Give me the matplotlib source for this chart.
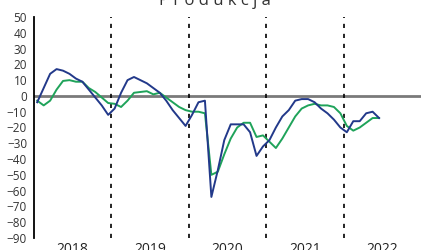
import matplotlib
matplotlib.use('Agg')
from matplotlib import pyplot as plt

plt.rcParams.update({'font.family': 'Open Sans'})

years = ['2018', '2019', '2020', '2021', '2022']

# monthly values, Jan 2018 .. Jun 2022
blue = [-4, 5, 14, 17, 16, 14, 11, 9, 4, -1, -6, -12,
        -8, 2, 10, 12, 10, 8, 5, 2, -3, -9, -14, -19,
        -12, -4, -3, -64, -47, -28, -18, -18, -18, -23, -38, -32,
        -28, -20, -13, -9, -3, -2, -2, -4, -8, -11, -15, -20,
        -23, -16, -16, -11, -10, -14]
green = [-3, -6, -3, 4, 9.5, 10, 9, 9, 5, 2.5, -1, -4.5,
         -5, -7, -3, 2, 2.5, 3, 1, 2, -1, -4, -7, -9,
         -10, -10, -11, -50, -48, -37, -27, -20, -17, -17, -26, -25,
         -29, -33, -27, -20, -13, -8, -6, -5, -6, -6, -7, -11,
         -19, -22, -20, -17, -14, -14]

x = list(range(len(blue)))

fig = plt.figure(figsize=(4.21, 2.5), dpi=100)
ax = fig.add_axes([34 / 421, 12 / 250, 1 - 34 / 421, 221 / 250])

ax.axhline(0, color='#7a7a7a', lw=2, zorder=1)
for k in range(1, len(years)):
    ax.axvline(12 * k - 0.5, color='black', lw=1.2, linestyle=(0, (2.5, 3.5)), zorder=1)

ax.plot(x, green, color='#1fa35a', lw=1.4, zorder=3)
ax.plot(x, blue, color='#22398a', lw=1.4, zorder=4)

ax.set_xlim(-0.5, 59.5)
ax.set_ylim(-90, 50)
ax.set_yticks(range(-90, 51, 10))
ax.set_xticks([12 * k + 5.5 for k in range(len(years))])
ax.set_xticklabels(years)
ax.tick_params(axis='y', length=0, labelsize=8.5, labelcolor='#333333', pad=5)
ax.tick_params(axis='x', length=0, labelsize=10, labelcolor='#222222', pad=3)
for s in ['top', 'right', 'bottom']:
    ax.spines[s].set_visible(False)
ax.spines['left'].set_linewidth(1.3)

fig.text(0.51, 0.98, 'P r o d u k c j a', fontsize=12, ha='center', va='baseline', color='#333333')

fig.savefig('out.png', dpi=100)
